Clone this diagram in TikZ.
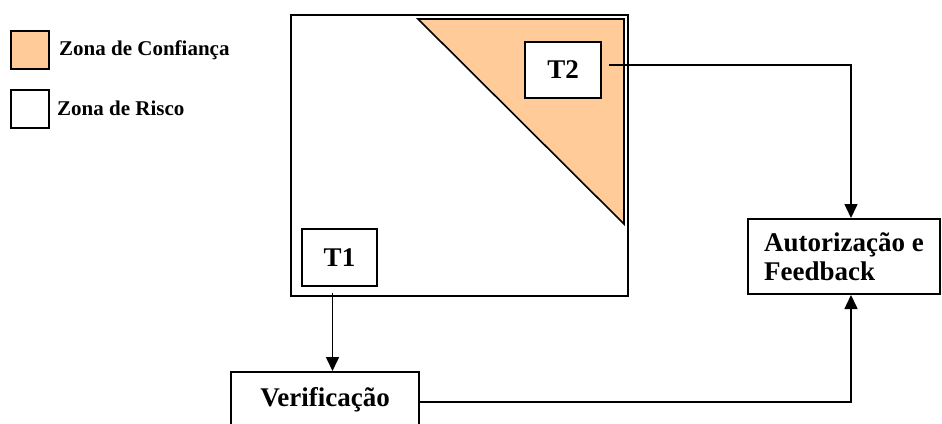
\documentclass[tikz,border=0pt]{standalone}
\usepackage{fontspec}
\setmainfont{Liberation Serif}
\usetikzlibrary{arrows.meta}
\definecolor{conf}{HTML}{FFCC99}
\tikzset{
  box/.style={draw=black, line width=2pt, fill=white, inner sep=0pt, font=\fontsize{27}{29}\selectfont\bfseries},
  legbox/.style={draw=black, line width=2pt, inner sep=0pt, minimum width=38pt, minimum height=38pt},
  legtext/.style={anchor=west, inner sep=0pt, font=\fontsize{21}{24}\selectfont\bfseries},
  conn/.style={line width=1.6pt, -{Triangle[length=14pt,width=13pt]}}
}
\begin{document}
\begin{tikzpicture}[x=1pt,y=-1pt]
\useasboundingbox (0,0) rectangle (942,423);
% legend
\node[legbox, fill=conf] (lc) at (30,50) {};
\node[legtext] (lct) at (59,50) {Zona de Confiança};
\node[legbox, fill=white] (lr) at (30,108.5) {};
\node[legtext] (lrt) at (57,108.5) {Zona de Risco};
% main zone
\node[draw=black, line width=2pt, minimum width=337pt, minimum height=281pt, inner sep=0pt] (zone) at (459.5,155.5) {};
\draw[line width=1.6pt, fill=conf, line join=miter] (418,19) -- (624,19) -- (624,224) -- cycle;
\node[box, minimum width=76pt, minimum height=56pt] (T2) at (563,70) {T2};
\node[box, minimum width=75pt, minimum height=57pt] (T1) at (339.5,257.5) {T1};
% process boxes
\node[box, minimum width=188pt, minimum height=56pt] (verif) at (325,400) {Verificação};
\node[box, align=left, minimum width=192pt, minimum height=75pt] (auth) at (844,256.5) {Autorização e\\Feedback};
% connectors
\draw[conn] ([xshift=-7pt,yshift=-6pt]T1.south) -- ([xshift=-7pt]T1.south |- verif.north);
\draw[conn] ([xshift=7pt,yshift=5pt]T2.east) -| ([xshift=7pt]auth.north);
\draw[conn] ([yshift=-2pt]verif.east) -| ([xshift=7pt]auth.south);
\end{tikzpicture}
\end{document}
